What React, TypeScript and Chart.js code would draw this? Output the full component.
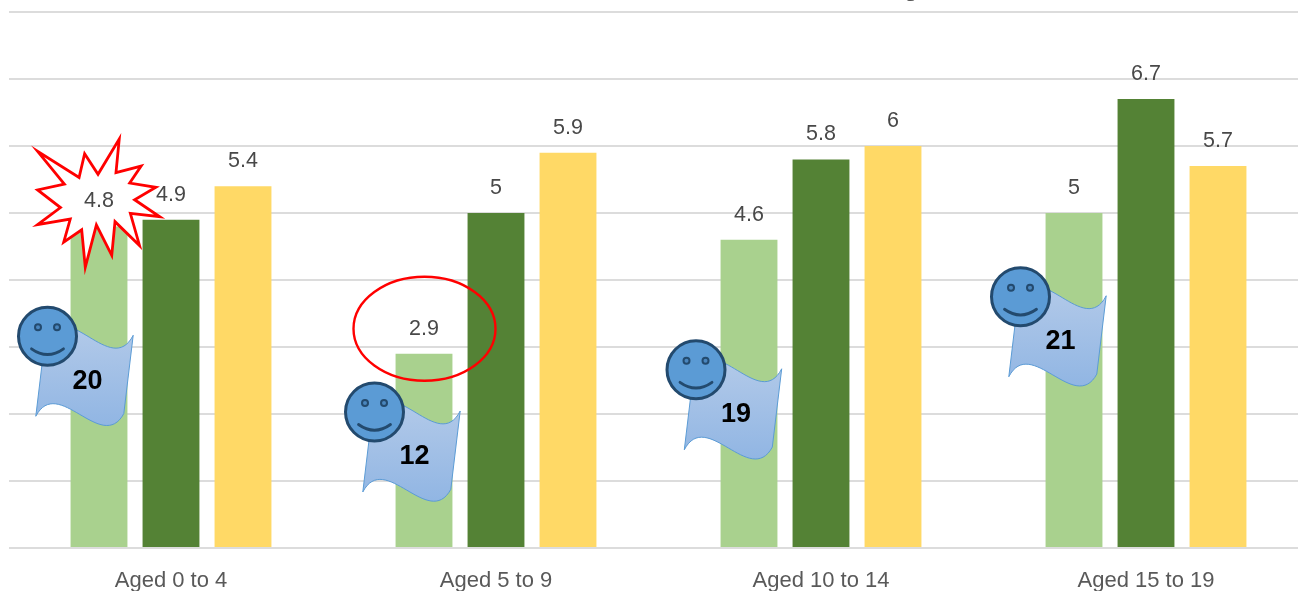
import React, { useEffect, useRef } from "react";
import { Chart, registerables } from "chart.js";

Chart.register(...registerables);

// ---- data ----
const categories = ["Aged 0 to 4", "Aged 5 to 9", "Aged 10 to 14", "Aged 15 to 19"];
const seriesA = [4.8, 2.9, 4.6, 5];
const seriesB = [4.9, 5, 5.8, 6.7];
const seriesC = [5.4, 5.9, 6, 5.7];
const flagNotes = ["20", "12", "19", "21"];
const yTicks = [0, 1, 2, 3, 4, 5, 6, 7, 8];

// ---- callout styling / anchoring (relative to the first series' bars) ----
const flagLevels = [3.16, 2.03, 2.66, 3.75];
const flagOffsets = [-51.5, -49.5, -53, -53.5];
const starPoints = [
  [358, 52], [348, 155], [425, 135], [390, 187], [470, 200], [405, 238], [482, 290], [392, 280],
  [420, 378], [345, 305], [335, 408], [288, 315], [254, 445], [243, 330], [188, 368], [208, 297],
  [108, 314], [178, 262], [108, 208], [190, 190], [108, 90], [235, 170], [252, 97], [293, 160],
];
const FONT = '"Liberation Sans", Arial, sans-serif';
const TEXT = "#595959";

function drawFlag(ctx: CanvasRenderingContext2D, x: number, y: number, note: string) {
  ctx.save();
  ctx.translate(x, y);
  const g = ctx.createLinearGradient(0, -12, 0, 92);
  g.addColorStop(0, "#B3CAE9");
  g.addColorStop(1, "#90B5E3");
  ctx.beginPath();
  ctx.moveTo(-2.3, 1.7);
  ctx.bezierCurveTo(19.7, -40, 63.7, 42, 85.7, -1);
  ctx.lineTo(76.3, 77.3);
  ctx.bezierCurveTo(54.3, 118, 10.3, 38, -11.7, 80);
  ctx.closePath();
  ctx.fillStyle = g;
  ctx.fill();
  ctx.strokeStyle = "#5B9BD5";
  ctx.lineWidth = 1;
  ctx.stroke();

  ctx.fillStyle = "#000000";
  ctx.font = `bold 27px ${FONT}`;
  ctx.textAlign = "center";
  ctx.textBaseline = "middle";
  ctx.fillText(note, 40, 45);

  // smiley
  ctx.beginPath();
  ctx.arc(0, 0, 29, 0, Math.PI * 2);
  ctx.fillStyle = "#5B9BD5";
  ctx.fill();
  ctx.strokeStyle = "#234A6E";
  ctx.lineWidth = 3;
  ctx.stroke();
  ctx.lineWidth = 2;
  for (const ex of [-9.5, 9.5]) {
    ctx.beginPath();
    ctx.arc(ex, -9, 3, 0, Math.PI * 2);
    ctx.fillStyle = "#4A86BE";
    ctx.fill();
    ctx.stroke();
  }
  ctx.beginPath();
  ctx.moveTo(-16, 12.5);
  ctx.quadraticCurveTo(0, 24, 16, 12.5);
  ctx.lineWidth = 2.8;
  ctx.lineCap = "round";
  ctx.stroke();
  ctx.restore();
}

const overlayPlugin = {
  id: "overlay",
  afterDatasetsDraw(chart: any) {
    const { ctx, scales } = chart;
    const y = scales.y;
    const metaA = chart.getDatasetMeta(0).data;

    // cut-off title descender at the very top of the image
    ctx.save();
    ctx.fillStyle = TEXT;
    ctx.font = `26px ${FONT}`;
    ctx.textAlign = "center";
    ctx.textBaseline = "alphabetic";
    ctx.fillText("g", 911, -4);
    ctx.restore();

    // burst around first label
    const burstCx = metaA[0].x;
    const burstCy = y.getPixelForValue(seriesA[0]) - 26;
    ctx.save();
    ctx.beginPath();
    starPoints.forEach(([px, py], i) => {
      const sx = burstCx + ((px - 296) / 3) * 0.98;
      const sy = burstCy + ((py - 240) / 3) * 0.98;
      if (i === 0) ctx.moveTo(sx, sy);
      else ctx.lineTo(sx, sy);
    });
    ctx.closePath();
    ctx.fillStyle = "#FFFFFF";
    ctx.fill();
    ctx.strokeStyle = "#FF0000";
    ctx.lineWidth = 2.8;
    ctx.stroke();
    ctx.restore();

    // ellipse around second label
    ctx.save();
    ctx.beginPath();
    ctx.ellipse(metaA[1].x + 0.5, y.getPixelForValue(seriesA[1]) - 25, 71, 52, 0, 0, Math.PI * 2);
    ctx.strokeStyle = "#FF0000";
    ctx.lineWidth = 2.4;
    ctx.stroke();
    ctx.restore();

    // data labels
    ctx.save();
    ctx.fillStyle = "#484848";
    ctx.font = `21.5px ${FONT}`;
    ctx.textAlign = "center";
    ctx.textBaseline = "middle";
    chart.data.datasets.forEach((ds: any, di: number) => {
      chart.getDatasetMeta(di).data.forEach((bar: any, i: number) => {
        ctx.fillText(String(ds.data[i]), bar.x, y.getPixelForValue(ds.data[i]) - 25);
      });
    });
    ctx.restore();

    // flags with smileys
    flagNotes.forEach((note, i) => {
      drawFlag(ctx, metaA[i].x + flagOffsets[i], y.getPixelForValue(flagLevels[i]), note);
    });
  },
};

export default function App() {
  const ref = useRef<HTMLCanvasElement>(null);
  useEffect(() => {
    document.body.style.margin = "0";
    document.body.style.overflow = "hidden";
    const chart = new Chart(ref.current!, {
      type: "bar",
      data: {
        labels: categories,
        datasets: [
          { label: "A", data: seriesA, backgroundColor: "#A9D18E" },
          { label: "B", data: seriesB, backgroundColor: "#548235" },
          { label: "C", data: seriesC, backgroundColor: "#FFD966" },
        ],
      },
      options: {
        animation: false,
        responsive: false,
        devicePixelRatio: 1,
        layout: { padding: { left: 8.5, right: 11.5, top: 12, bottom: 0 } },
        datasets: { bar: { categoryPercentage: 0.6646, barPercentage: 0.79 } },
        plugins: { legend: { display: false }, title: { display: false }, tooltip: { enabled: false } },
        scales: {
          x: {
            grid: { display: false, drawTicks: false },
            border: { display: false },
            ticks: { color: TEXT, font: { family: FONT, size: 22 }, padding: 20, maxRotation: 0, autoSkip: false },
            afterFit: (s: any) => { s.height = 43; },
          },
          y: {
            min: 0,
            max: yTicks[yTicks.length - 1],
            afterBuildTicks: (s: any) => { s.ticks = yTicks.map((value) => ({ value })); },
            grid: { color: "#DCDCDC", lineWidth: 2, drawTicks: false },
            border: { display: false },
            ticks: { display: false },
            afterFit: (s: any) => { s.width = 0; },
          },
        },
      },
      plugins: [overlayPlugin],
    } as any);
    return () => chart.destroy();
  }, []);
  return (
    <div style={{ position: "fixed", left: 0, top: 0, width: 1298, height: 591, overflow: "hidden", background: "#fff" }}>
      <canvas ref={ref} width={1320} height={591} style={{ display: "block" }} />
    </div>
  );
}
